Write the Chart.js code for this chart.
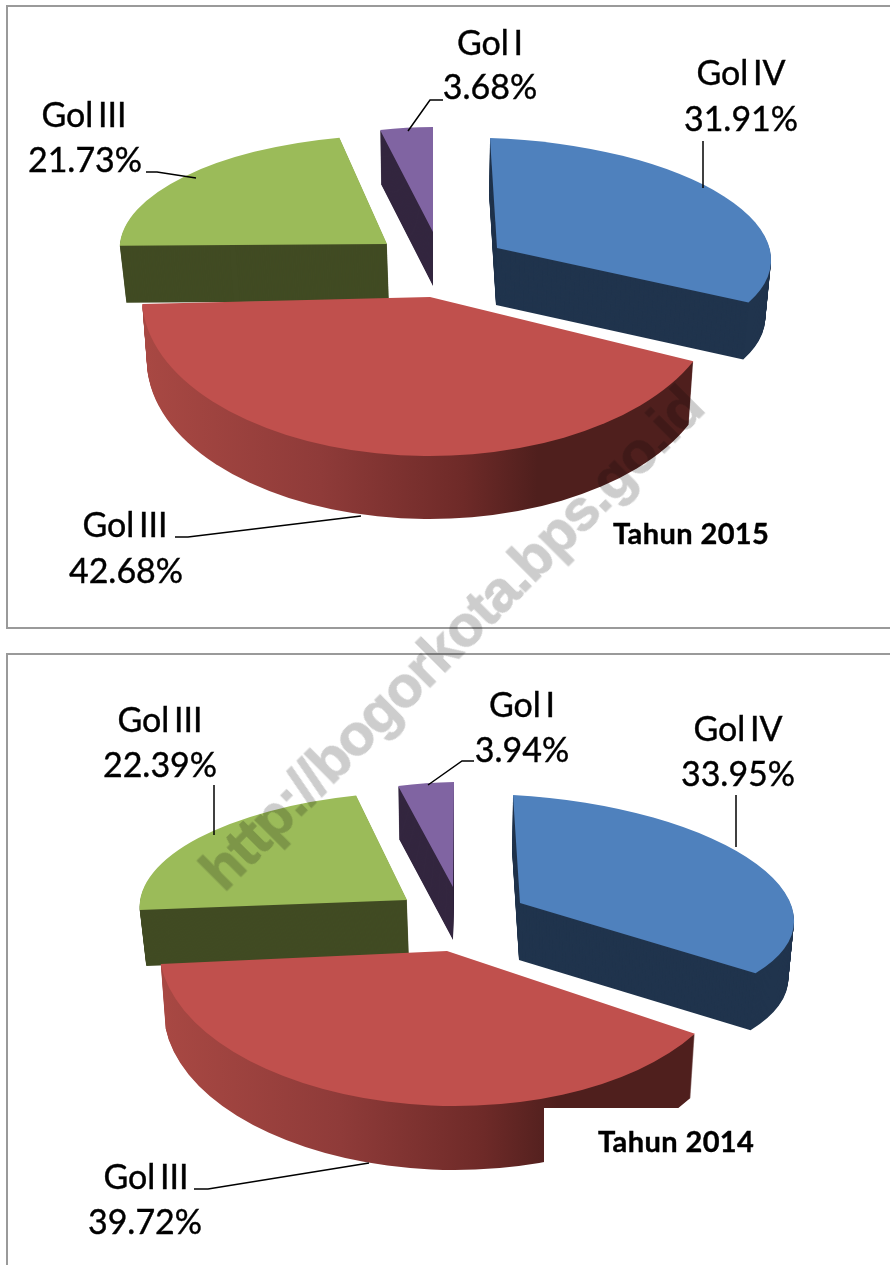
<!DOCTYPE html>
<html>
<head>
<meta charset="utf-8">
<script src="https://cdn.jsdelivr.net/npm/chart.js@4"></script>
<style>
html, body { margin: 0; padding: 0; background: #fff; }
body { position: relative; width: 890px; height: 1265px; overflow: hidden; }
.box { position: absolute; left: 6px; width: 900px; border: 2px solid #9a9a9a; box-sizing: border-box; }
canvas { position: absolute; left: 0; }
#mark {
    position: absolute; left: 451px; top: 638px; width: 800px; height: 70px; margin: -35px 0 0 -400px;
    text-align: center; font: bold 58px/70px "Liberation Sans", sans-serif; letter-spacing: -1.4px;
    color: #cdcdcd; -webkit-text-stroke: 1px #cdcdcd; mix-blend-mode: multiply;
    transform: rotate(-45deg); white-space: nowrap;
}
</style>
</head>
<body>
<div class="box" style="top:5px;height:624px"></div>
<div class="box" style="top:653px;height:700px"></div>
<canvas id="pie2015" width="890" height="640" style="top:0"></canvas>
<canvas id="pie2014" width="890" height="625" style="top:640px"></canvas>
<div id="mark">http://bogorkota.bps.go.id</div>
<script>
var categories = ['Gol IV', 'Gol III', 'Gol III', 'Gol I'];
var values2015 = [31.91, 42.68, 21.73, 3.68];
var values2014 = [33.95, 39.72, 22.39, 3.94];

var topColors = ['#4f81bd', '#c0504d', '#9bbb59', '#8064a2'];
var wallColors = ['#20344d', '#4f1f1d', '#414b23', '#33263f'];
var drawOrder = [3, 2, 0, 1];
var wallShrink = 0.017;

// how each flat slice lies on the page: apex, right vector, up vector, wall drop
var frames2015 = [
    { o: [497, 248], a: [274, 9], u: [-7, -110], wall: [-1, 57] },
    { o: [430, 297], a: [288, -3], u: [-5, -159], wall: [0, 63] },
    { o: [387, 244], a: [267, 1], u: [14, -109], wall: [2, 57] },
    { o: [433, 232], a: [231, -1], u: [0, -105], wall: [0, 54] }
];
var frames2014 = [
    { o: [520, 903], a: [274, 15], u: [-7, -108], wall: [-1, 57] },
    { o: [447, 951], a: [288, 0], u: [-8, -155], wall: [0, 64] },
    { o: [407, 900], a: [267, -1], u: [15, -108], wall: [2, 56] },
    { o: [453, 887], a: [228, -3], u: [1, -105], wall: [0, 53] }
];

// name centre x, name baseline, percent centre x, percent baseline
var spots2015 = [[741, 85, 741, 131], [125, 537, 126, 583], [84, 127, 85, 172], [490, 55, 490, 99]];
var spots2014 = [[738, 741, 738, 786], [146, 1189, 145, 1234], [160, 732, 160, 777], [522, 717, 522, 762]];

var leaders2015 = [
    [[703, 141], [703, 188]],
    [[175, 537], [188, 537], [361, 516]],
    [[146, 172], [157, 172], [196, 178]],
    [[408, 131], [430, 100], [443, 100]]
];
var leaders2014 = [
    [[736, 795], [736, 847]],
    [[194, 1189], [208, 1189], [369, 1163]],
    [[214, 785], [214, 835]],
    [[428, 785], [462, 761], [474, 761]]
];

function setFrame(ctx, el, f, t) {
    var R = el.outerRadius;
    var s = 1 - wallShrink * t;
    ctx.translate(f.o[0] + f.wall[0] * t, f.o[1] + f.wall[1] * t);
    ctx.transform(f.a[0] * s / R, f.a[1] / R, -f.u[0] * s / R, -f.u[1] / R, 0, 0);
    ctx.translate(-el.x, -el.y);
}

function redWall(ctx, el) {
    var R = el.outerRadius;
    var g = ctx.createLinearGradient(el.x - R, 0, el.x + R, 0);
    g.addColorStop(0, '#a84843');
    g.addColorStop(0.3, '#8f3b39');
    g.addColorStop(0.55, '#6e2a28');
    g.addColorStop(0.68, '#4f1f1d');
    g.addColorStop(1, '#4f1f1d');
    return g;
}

function drawSlice(ctx, el, fill, f, t) {
    var saved = el.options;
    ctx.save();
    setFrame(ctx, el, f, t);
    el.options = Object.assign({}, saved, { backgroundColor: fill === 'red' ? redWall(ctx, el) : fill });
    el.draw(ctx);
    el.options = saved;
    ctx.restore();
}

function paintText(ctx, text, x, y) {
    ctx.fillText(text, x, y);
    ctx.strokeText(text, x, y);
}

// the pie is laid flat and thickened by stacking the arc elements
var slab = {
    id: 'slab',
    beforeDatasetDraw: function(chart) {
        var ctx = chart.ctx;
        var meta = chart.getDatasetMeta(0);
        var frames = chart.options.plugins.slab.frames;
        var top = chart.options.plugins.slab.top;
        ctx.save();
        ctx.translate(0, -top);
        drawOrder.forEach(function(i) {
            var f = frames[i];
            var el = meta.data[i];
            var n = Math.ceil(Math.abs(f.wall[1]));
            for (var k = n; k >= 1; k--) {
                drawSlice(ctx, el, i === 1 ? 'red' : wallColors[i], f, k / n);
            }
            drawSlice(ctx, el, topColors[i], f, 0);
        });
        ctx.restore();
        return false;
    },
    afterDraw: function(chart) {
        var ctx = chart.ctx;
        var o = chart.options.plugins.slab;
        var values = chart.data.datasets[0].data;
        ctx.save();
        ctx.translate(0, -o.top);
        if (o.patch) {
            ctx.fillStyle = '#fff';
            ctx.fillRect(o.patch[0], o.patch[1], o.patch[2], o.patch[3]);
        }
        ctx.strokeStyle = '#000';
        ctx.lineWidth = 1.5;
        o.leaders.forEach(function(line) {
            ctx.beginPath();
            line.forEach(function(p, j) {
                if (j === 0) ctx.moveTo(p[0], p[1]);
                else ctx.lineTo(p[0], p[1]);
            });
            ctx.stroke();
        });
        ctx.fillStyle = '#000';
        ctx.lineWidth = 0.4;
        ctx.textAlign = 'center';
        ctx.textBaseline = 'alphabetic';
        ctx.font = '34px Lato';
        ctx.wordSpacing = '-4px';
        o.spots.forEach(function(s, i) {
            paintText(ctx, chart.data.labels[i], s[0], s[1]);
            paintText(ctx, values[i].toFixed(2) + '%', s[2], s[3]);
        });
        ctx.wordSpacing = '0px';
        ctx.font = 'bold 29px Lato';
        ctx.letterSpacing = '0.4px';
        ctx.textAlign = 'left';
        paintText(ctx, o.title[0], o.title[1], o.title[2]);
        ctx.restore();
    }
};

function makePie(id, values, frames, spots, leaders, top, title, patch) {
    return new Chart(document.getElementById(id), {
        type: 'pie',
        data: {
            labels: categories,
            datasets: [{ data: values, backgroundColor: topColors, borderWidth: 0 }]
        },
        options: {
            responsive: false,
            animation: false,
            plugins: {
                legend: { display: false },
                tooltip: { enabled: false },
                slab: { frames: frames, spots: spots, leaders: leaders, top: top, title: title, patch: patch }
            }
        },
        plugins: [slab]
    });
}

makePie('pie2015', values2015, frames2015, spots2015, leaders2015, 0, ['Tahun 2015', 613, 544], null);
makePie('pie2014', values2014, frames2014, spots2014, leaders2014, 640, ['Tahun 2014', 598, 1152], [544, 1108, 176, 70]);
</script>
</body>
</html>
